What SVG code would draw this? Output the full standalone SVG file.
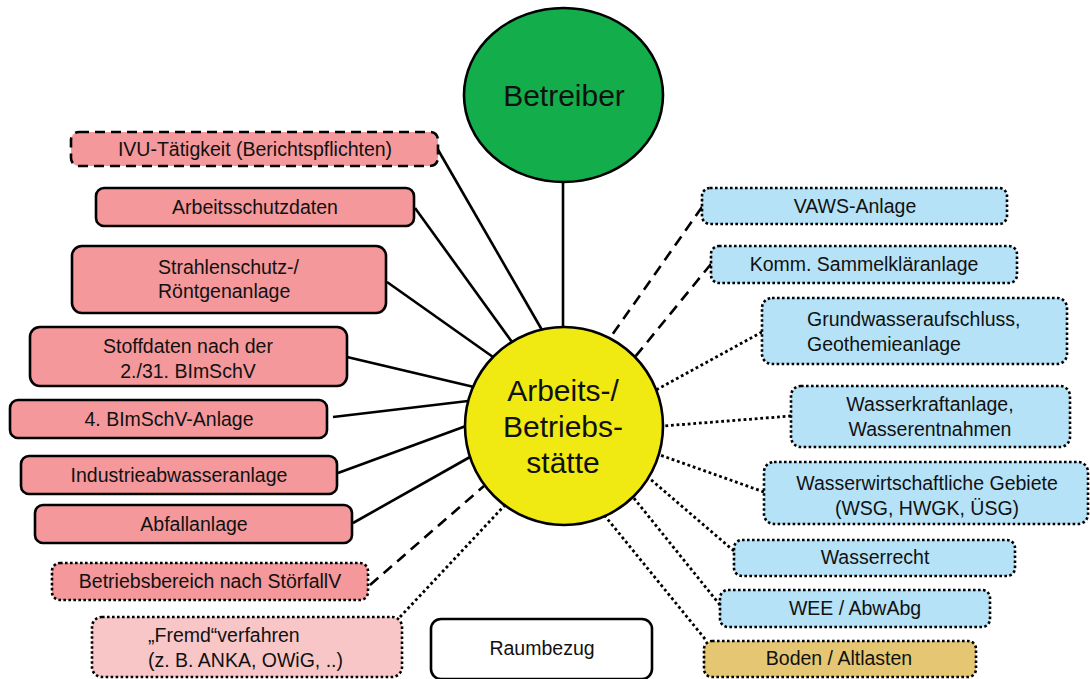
<svg xmlns="http://www.w3.org/2000/svg" width="1090" height="679" viewBox="0 0 1090 679">
<style>
text{font-family:"Liberation Sans",Arial,sans-serif;fill:#111;}
.t{font-size:19.5px;}
.big{font-size:30px;}
.c{text-anchor:middle;}
.box{stroke:#000;stroke-width:2.6;}
.pink{fill:#F4989B;}
.lpink{fill:#F9C6C7;}
.blue{fill:#B5E2F7;}
.tan{fill:#E5C672;}
.white{fill:#fff;}
.dash{stroke-dasharray:10 6;}
.dot{stroke-dasharray:2.6 2.4;}
.ln{stroke:#000;stroke-width:2.6;fill:none;}
.ldash{stroke-dasharray:11 7;}
.ldot{stroke-dasharray:2.8 2.8;stroke-width:2.8;}
</style>
<g id="connectors">
<line class="ln" x1="563" y1="181" x2="563" y2="328"/>
<line class="ln" x1="437" y1="148" x2="542" y2="330"/>
<line class="ln" x1="415" y1="208" x2="512" y2="342"/>
<line class="ln" x1="387" y1="282" x2="493" y2="357"/>
<line class="ln" x1="347" y1="357" x2="474" y2="387"/>
<line class="ln" x1="333" y1="417" x2="468" y2="401"/>
<line class="ln" x1="338" y1="473" x2="466" y2="426"/>
<line class="ln" x1="353" y1="523" x2="470" y2="457"/>
<line class="ln ldash" x1="370" y1="585" x2="484" y2="486"/>
<line class="ln ldot" x1="400" y1="617" x2="505" y2="505"/>
<line class="ln ldash" x1="702" y1="207" x2="610" y2="338"/>
<line class="ln ldash" x1="711" y1="264" x2="635" y2="357"/>
<line class="ln ldot" x1="762" y1="332" x2="656" y2="390"/>
<line class="ln ldot" x1="791" y1="416" x2="663" y2="426"/>
<line class="ln ldot" x1="764" y1="492" x2="660" y2="455"/>
<line class="ln ldot" x1="734" y1="551" x2="649" y2="478"/>
<line class="ln ldot" x1="720" y1="605" x2="633" y2="497"/>
<line class="ln ldot" x1="705" y1="639" x2="605" y2="516"/>
</g>
<g id="betreiber">
<ellipse cx="563.5" cy="95" rx="99.5" ry="87" fill="#13AE4B" stroke="#000" stroke-width="2.6"/>
<text class="big c" x="564" y="106">Betreiber</text>
</g>
<g id="betriebsstaette">
<circle cx="564" cy="426" r="99" fill="#F0E912" stroke="#000" stroke-width="2.6"/>
<text class="big c" x="563" y="401">Arbeits-/</text>
<text class="big c" x="563" y="437">Betriebs-</text>
<text class="big c" x="563" y="473">stätte</text>
</g>
<g id="ivu">
<rect class="box pink dash" x="71" y="132" width="367" height="34" rx="8"/>
<text class="t c" x="255" y="156">IVU-Tätigkeit (Berichtspflichten)</text>
</g>
<g id="arbeitsschutz">
<rect class="box pink" x="96" y="188" width="318" height="38" rx="8"/>
<text class="t c" x="255" y="214">Arbeitsschutzdaten</text>
</g>
<g id="strahlenschutz">
<rect class="box pink" x="72" y="246" width="314" height="67" rx="10"/>
<text class="t" x="158" y="274">Strahlenschutz-/</text>
<text class="t" x="158" y="298">Röntgenanlage</text>
</g>
<g id="stoffdaten">
<rect class="box pink" x="30" y="327" width="317" height="59" rx="10"/>
<text class="t c" x="188" y="353">Stoffdaten nach der</text>
<text class="t c" x="188" y="378">2./31. BImSchV</text>
</g>
<g id="bimschv4">
<rect class="box pink" x="10" y="400" width="317" height="38" rx="8"/>
<text class="t c" x="169" y="426">4. BImSchV-Anlage</text>
</g>
<g id="industrieabwasser">
<rect class="box pink" x="21" y="456" width="316" height="38" rx="8"/>
<text class="t c" x="179" y="482">Industrieabwasseranlage</text>
</g>
<g id="abfall">
<rect class="box pink" x="35" y="505" width="317" height="38" rx="8"/>
<text class="t c" x="194" y="531">Abfallanlage</text>
</g>
<g id="stoerfall">
<rect class="box pink dot" x="52" y="563" width="316" height="37" rx="8"/>
<text class="t c" x="210" y="588">Betriebsbereich nach StörfallV</text>
</g>
<g id="fremd">
<rect class="box lpink dot" x="92" y="617" width="310" height="60" rx="10"/>
<text class="t" x="148" y="642">„Fremd“verfahren</text>
<text class="t" x="148" y="667">(z. B. ANKA, OWiG, ..)</text>
</g>
<g id="raumbezug">
<rect class="box white" x="431" y="619" width="221" height="60" rx="10"/>
<text class="t c" x="542" y="655">Raumbezug</text>
</g>
<g id="vaws">
<rect class="box blue dot" x="702" y="188" width="305" height="36" rx="8"/>
<text class="t c" x="855" y="213">VAWS-Anlage</text>
</g>
<g id="kommsammel">
<rect class="box blue dot" x="711" y="246" width="306" height="37" rx="8"/>
<text class="t c" x="864" y="271">Komm. Sammelkläranlage</text>
</g>
<g id="grundwasser">
<rect class="box blue dot" x="762" y="298" width="305" height="66" rx="10"/>
<text class="t" x="807" y="326">Grundwasseraufschluss,</text>
<text class="t" x="807" y="351">Geothemieanlage</text>
</g>
<g id="wasserkraft">
<rect class="box blue dot" x="791" y="386" width="279" height="61" rx="10"/>
<text class="t c" x="930" y="411">Wasserkraftanlage,</text>
<text class="t c" x="930" y="436">Wasserentnahmen</text>
</g>
<g id="wasserwirtschaft">
<rect class="box blue dot" x="764" y="462" width="324" height="62" rx="10"/>
<text class="t c" x="927" y="490">Wasserwirtschaftliche Gebiete</text>
<text class="t c" x="927" y="515">(WSG, HWGK, ÜSG)</text>
</g>
<g id="wasserrecht">
<rect class="box blue dot" x="734" y="540" width="281" height="36" rx="8"/>
<text class="t c" x="875" y="564">Wasserrecht</text>
</g>
<g id="wee">
<rect class="box blue dot" x="720" y="590" width="270" height="37" rx="8"/>
<text class="t c" x="855" y="615">WEE / AbwAbg</text>
</g>
<g id="boden">
<rect class="box tan dot" x="704" y="641" width="272" height="36" rx="8"/>
<text class="t c" x="839" y="665">Boden / Altlasten</text>
</g>
</svg>
